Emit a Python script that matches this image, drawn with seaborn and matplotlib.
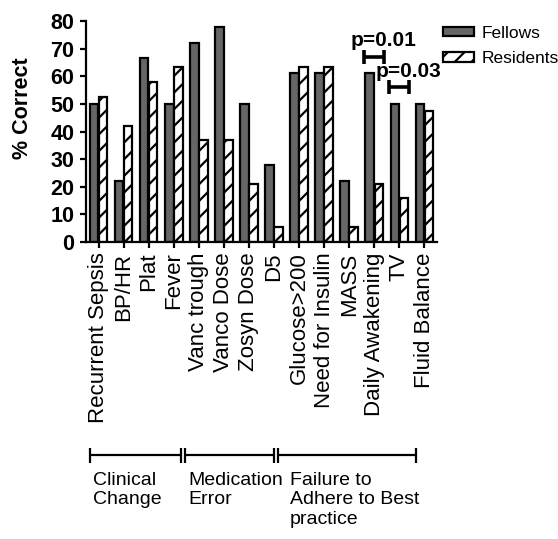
import pandas as pd
import matplotlib
matplotlib.use("Agg")
import matplotlib.pyplot as plt
import seaborn as sns

# dados
itens = ["Recurrent Sepsis", "BP/HR", "Plat", "Fever", "Vanc trough", "Vanco Dose",
         "Zosyn Dose", "D5", "Glucose>200", "Need for Insulin", "MASS",
         "Daily Awakening", "TV", "Fluid Balance"]
fellows = [50.0, 22.2, 66.7, 50.0, 72.2, 77.8, 50.0, 27.8, 61.1, 61.1, 22.2, 61.1, 50.0, 50.0]
residents = [52.6, 42.1, 57.9, 63.2, 36.8, 36.8, 21.1, 5.3, 63.2, 63.2, 5.3, 21.1, 15.8, 47.4]
grupos = ["Fellows", "Residents"]

# comparacoes significativas
comp_itens = ["Daily Awakening", "TV"]
comp_p = ["p=0.01", "p=0.03"]

# grupos de erro
categorias_erro = ["Clinical\nChange", "Medication\nError", "Failure to\nAdhere to Best\npractice"]
tamanhos_erro = [4, 4, 6]

dados = pd.DataFrame({
    "item": itens * 2,
    "pct": fellows + residents,
    "grupo": [grupos[0]] * len(itens) + [grupos[1]] * len(itens),
})

sns.set_style("ticks")
plt.rcParams["font.family"] = ["Liberation Sans", "DejaVu Sans"]
plt.rcParams["hatch.linewidth"] = 1.6
for chave in ["text.color", "axes.labelcolor", "xtick.color", "ytick.color", "axes.edgecolor"]:
    plt.rcParams[chave] = "black"

fig = plt.figure(figsize=(5.58, 5.39), dpi=100)
ax = fig.add_axes([0.1541, 0.551, 0.629, 0.410])

sns.barplot(data=dados, x="item", y="pct", hue="grupo", palette=["#666666", "white"],
            edgecolor="black", linewidth=1.6, width=0.72, gap=0.05, ax=ax, legend=False)

for barra in ax.containers[1]:
    barra.set_hatch("//")

ax.set_xlim(-0.5, len(itens) - 0.5)
ax.set_ylim(0, 80)
ax.set_yticks(range(0, 81, 10))
sns.despine(ax=ax)
for lado in ["left", "bottom"]:
    ax.spines[lado].set_linewidth(1.6)
ax.tick_params(axis="y", labelsize=15.5, width=1.6, length=4.5, pad=4)
ax.tick_params(axis="x", labelsize=16, width=1.6, length=4.5, pad=3, rotation=90)
for t in ax.get_yticklabels():
    t.set_fontweight("bold")
ax.set_xlabel("")
ax.set_ylabel("% Correct", fontsize=15.5, fontweight="bold")
ax.yaxis.set_label_coords(-0.15, 0.605)

# brackets de significancia
for nome, p in zip(comp_itens, comp_p):
    i = itens.index(nome)
    topo = max(fellows[i], residents[i]) + 6
    ax.errorbar(i, topo, xerr=0.4, fmt="none", ecolor="black", elinewidth=2.6,
                capsize=5, capthick=2.6, clip_on=False)
    ax.text(i + 0.35, topo + 3.7, p, ha="center", va="baseline", fontsize=15,
            fontweight="bold", clip_on=False)

ax.legend(handles=ax.containers, labels=grupos, loc="upper left",
          bbox_to_anchor=(0.794, 0.952), bbox_transform=fig.transFigure,
          frameon=False, fontsize=12.5, borderpad=0, borderaxespad=0,
          handlelength=1.8, handleheight=0.45, handletextpad=0.45, labelspacing=0.6)

# eixo inferior com os grupos
axg = fig.add_axes([0.1613, 0.0, 0.5842, 0.1837])
axg.set_xlim(0, sum(tamanhos_erro))
axg.set_ylim(0, 1)
axg.axis("off")
inicio = 0
for k, (nome, n) in enumerate(zip(categorias_erro, tamanhos_erro)):
    a = inicio + (0.09 if inicio > 0 else 0)
    b = inicio + n - (0.09 if inicio + n < sum(tamanhos_erro) else 0)
    axg.errorbar((a + b) / 2, 0.848, xerr=(b - a) / 2, fmt="none", ecolor="black",
                 elinewidth=1.6, capsize=5.4, capthick=1.6, clip_on=False)
    axg.text(a + (0.5 if k == 2 else 0.15), 0.68, nome, ha="left", va="top",
             fontsize=14, linespacing=1.2)
    inicio += n

plt.savefig("out.png", dpi=100)
